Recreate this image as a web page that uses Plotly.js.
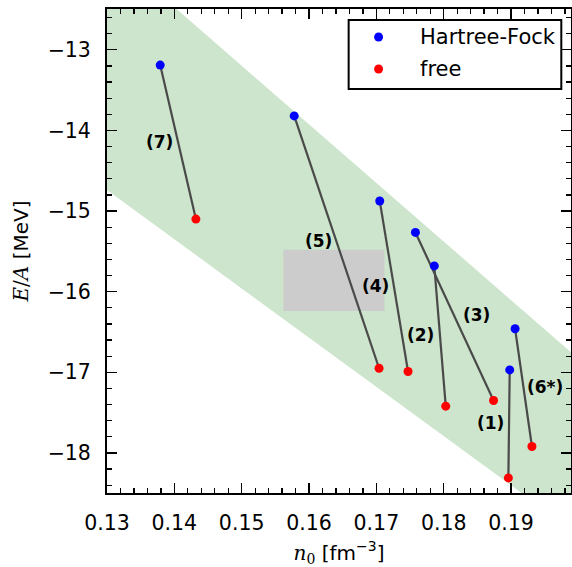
<!DOCTYPE html>
<html>
<head>
<meta charset="utf-8">
<script src="https://cdn.plot.ly/plotly-3.0.1.min.js"></script>
<style>html,body{margin:0;padding:0;background:#fff;}#chart{width:572px;height:567px;}</style>
</head>
<body>
<div id="chart"></div>
<script>
// Hartree-Fock saturation points
var hfN = [0.1898, 0.1786, 0.1758, 0.1705, 0.1578, 0.1906, 0.1379];
var hfE = [-16.97, -15.68, -15.265, -14.876, -13.82, -16.46, -13.19];
// free saturation points
var freeN = [0.1896, 0.1803, 0.1874, 0.1747, 0.1704, 0.1931, 0.1432];
var freeE = [-18.31, -17.42, -17.35, -16.99, -16.95, -17.92, -15.10];
// labels of the pairs
var pairLabels = ['(1)', '(2)', '(3)', '(4)', '(5)', '(6*)', '(7)'];
var labelN = [0.1869, 0.1766, 0.1849, 0.1699, 0.1614, 0.1951, 0.1378];
var labelE = [-17.63, -16.54, -16.29, -15.93, -15.37, -17.18, -14.14];
// Coester-like band (polygon vertices)
var bandN = [0.12, 0.21, 0.21, 0.12];
var bandE = [-11.016, -17.559, -19.62, -14.13];
// empirical saturation box
var boxN = [0.1562, 0.1712, 0.1712, 0.1562];
var boxE = [-16.24, -16.24, -15.48, -15.48];
// legend entries
var seriesNames = ['Hartree-Fock', 'free'];
var seriesColors = ['#0000ff', '#ff0000'];

var traces = [];
traces.push({x: bandN, y: bandE, type: 'scatter', mode: 'lines', fill: 'toself',
  fillcolor: '#cce5cc', line: {width: 0, color: 'rgba(0,0,0,0)'}, showlegend: false, hoverinfo: 'skip'});
traces.push({x: boxN, y: boxE, type: 'scatter', mode: 'lines', fill: 'toself',
  fillcolor: '#cccccc', line: {width: 0, color: 'rgba(0,0,0,0)'}, showlegend: false, hoverinfo: 'skip'});
var lx = [], ly = [];
for (var i = 0; i < hfN.length; i++) {
  lx.push(hfN[i], freeN[i], null);
  ly.push(hfE[i], freeE[i], null);
}
traces.push({x: lx, y: ly, type: 'scatter', mode: 'lines', line: {color: '#4a4a4a', width: 2.2},
  showlegend: false, hoverinfo: 'skip'});
traces.push({x: hfN, y: hfE, type: 'scatter', mode: 'markers', name: seriesNames[0], showlegend: false,
  marker: {color: seriesColors[0], size: 9}, cliponaxis: false});
traces.push({x: freeN, y: freeE, type: 'scatter', mode: 'markers', name: seriesNames[1], showlegend: false,
  marker: {color: seriesColors[1], size: 9}, cliponaxis: false});

var annotations = pairLabels.map(function (t, i) {
  return {x: labelN[i], y: labelE[i], xref: 'x', yref: 'y', text: '<b>' + t + '</b>',
    showarrow: false, font: {family: 'DejaVu Sans', size: 17, color: '#000'},
    xanchor: 'center', yanchor: 'middle'};
});

// manual legend (box, symbols, texts) in paper coordinates
var shapes = [{type: 'rect', xref: 'paper', yref: 'paper', x0: 0.5208, x1: 0.9791, y0: 0.8347, y1: 0.9773,
  fillcolor: '#ffffff', line: {color: '#000', width: 2}, layer: 'above'}];
var legY = [0.9421, 0.876];
seriesNames.forEach(function (nm, i) {
  shapes.push({type: 'circle', xref: 'paper', yref: 'paper', xsizemode: 'pixel', ysizemode: 'pixel',
    xanchor: 0.5853, yanchor: legY[i], x0: -4.5, x1: 4.5, y0: -4.5, y1: 4.5,
    fillcolor: seriesColors[i], line: {width: 0}, layer: 'above'});
  annotations.push({xref: 'paper', yref: 'paper', x: 0.6693, y: legY[i], text: nm, showarrow: false,
    xanchor: 'left', yanchor: 'middle', font: {family: 'DejaVu Sans', size: 21, color: '#000'}});
});

var axisCommon = {
  showgrid: false, zeroline: false, showline: true, linecolor: '#000', linewidth: 2,
  mirror: 'allticks', ticks: 'inside', ticklen: 10, tickwidth: 1.3, tickcolor: '#000',
  tickfont: {family: 'DejaVu Sans', size: 20.5, color: '#000'}
};

var layout = {
  width: 572, height: 567,
  margin: {l: 107, r: 1, t: 9, b: 74},
  paper_bgcolor: '#fff', plot_bgcolor: '#fff',
  font: {family: 'DejaVu Sans', color: '#000'},
  xaxis: Object.assign({}, axisCommon, {
    range: [0.13, 0.1989], dtick: 0.01, tick0: 0.13, tickformat: '.2f',
    ticklabelstandoff: 10,
    minor: {ticks: 'inside', ticklen: 5, dtick: 0.002, tick0: 0.13, tickwidth: 1.3, tickcolor: '#000'},
    title: {text: '<span style="font-family:DejaVu Serif"><i>n</i><sub>0</sub></span> [fm<sup>−3</sup>]',
      font: {family: 'DejaVu Sans', size: 20, color: '#000'}, standoff: 14}
  }),
  yaxis: Object.assign({}, axisCommon, {
    range: [-18.497, -12.494], dtick: 1, tick0: -13,
    ticklabelstandoff: 10,
    minor: {ticks: 'inside', ticklen: 5, dtick: 0.2, tick0: -13, tickwidth: 1.3, tickcolor: '#000'},
    title: {text: '<span style="font-family:DejaVu Serif"><i>E</i>/<i>A</i></span> [MeV]',
      font: {family: 'DejaVu Sans', size: 20, color: '#000'}, standoff: 14}
  }),
  annotations: annotations,
  shapes: shapes,
  showlegend: false
};

Plotly.newPlot('chart', traces, layout, {displayModeBar: false, staticPlot: true});
</script>
</body>
</html>
